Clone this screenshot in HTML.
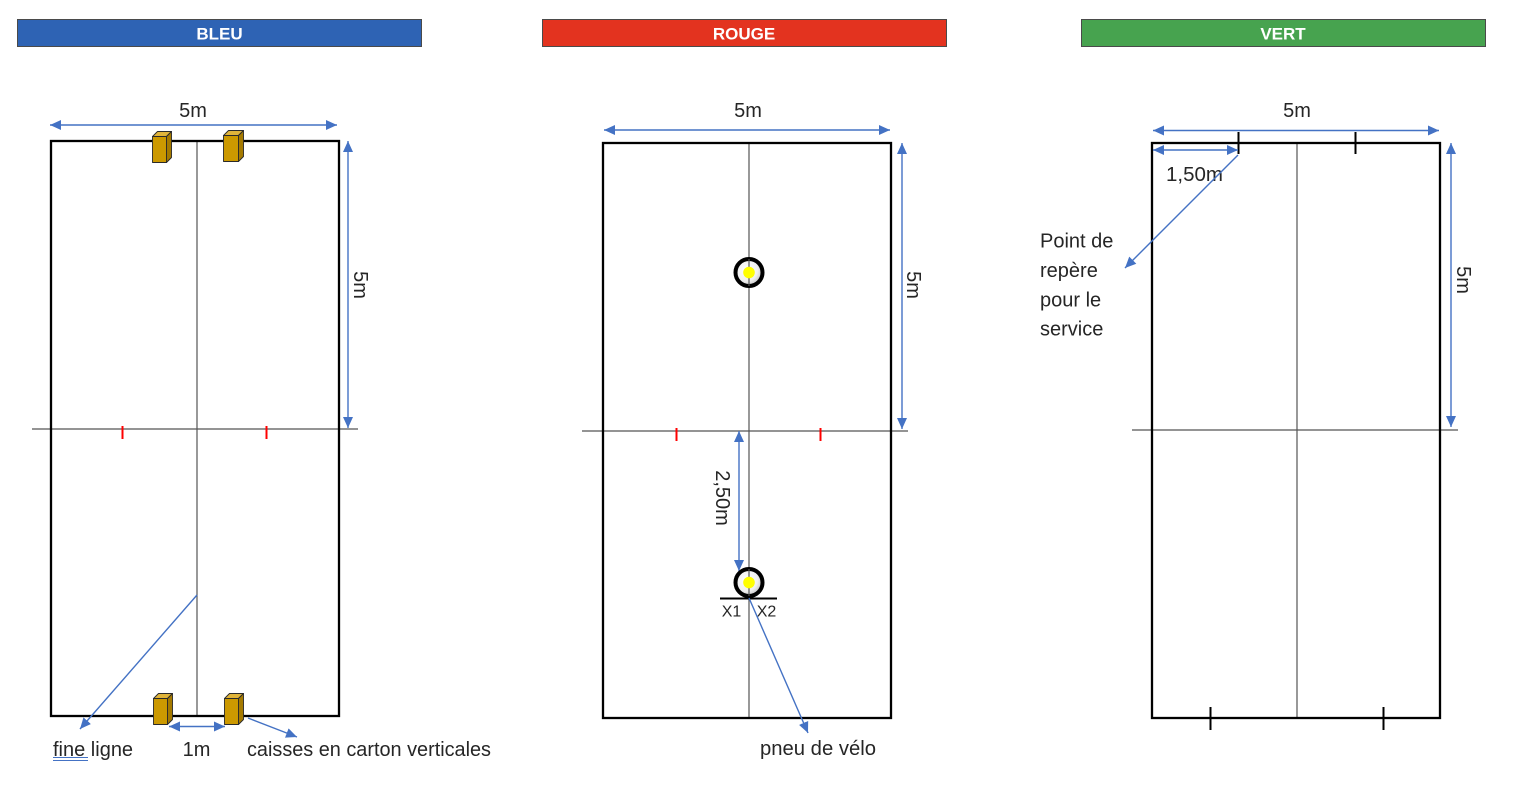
<!DOCTYPE html>
<html><head><meta charset="utf-8"><style>
html,body{margin:0;padding:0;background:#fff;}
svg{display:block;}
text{font-family:"Liberation Sans",sans-serif;fill:#262626;}
.hd{font-weight:bold;fill:#fff;font-size:17px;}
.lb{font-size:20px;}
.ar{stroke:#4472C4;stroke-width:1.4;fill:none;}
.bx{fill:none;stroke:#000;stroke-width:2.3;}
.cl{stroke:#555;stroke-width:1.2;}
.rt{stroke:#FF0000;stroke-width:2;}
.tk{stroke:#000;stroke-width:2;}
</style></head><body>
<svg width="1521" height="786" viewBox="0 0 1521 786" xmlns="http://www.w3.org/2000/svg">
<defs>
<marker id="ah" markerUnits="userSpaceOnUse" markerWidth="12" markerHeight="11" refX="11" refY="5" orient="auto-start-reverse">
<path d="M0,0 L11,5 L0,10 z" fill="#4472C4"/>
</marker>
<radialGradient id="tg" cx="0.4" cy="0.4" r="0.6">
<stop offset="0" stop-color="#ffffff"/><stop offset="0.7" stop-color="#f0f0f0"/><stop offset="1" stop-color="#c8c8c8"/>
</radialGradient>
</defs>

<!-- headers -->
<rect x="17.5" y="19.5" width="404" height="27" fill="#2E63B4" stroke="#4a4a4a" stroke-width="1"/>
<text class="hd" x="219.5" y="39.5" text-anchor="middle">BLEU</text>
<rect x="542.5" y="19.5" width="404" height="27" fill="#E3331F" stroke="#4a4a4a" stroke-width="1"/>
<text class="hd" x="744" y="39.5" text-anchor="middle">ROUGE</text>
<rect x="1081.5" y="19.5" width="404" height="27" fill="#47A34F" stroke="#4a4a4a" stroke-width="1"/>
<text class="hd" x="1283" y="39.5" text-anchor="middle">VERT</text>

<!-- ============ BLEU ============ -->
<line class="cl" x1="197" y1="141" x2="197" y2="716"/>
<line class="cl" x1="32" y1="429" x2="358" y2="429"/>
<rect class="bx" x="51" y="141" width="288" height="575"/>
<line class="rt" x1="122.5" y1="426" x2="122.5" y2="439"/>
<line class="rt" x1="266.5" y1="426" x2="266.5" y2="439"/>

<line class="ar" x1="50" y1="125" x2="337" y2="125" marker-start="url(#ah)" marker-end="url(#ah)"/>
<text class="lb" x="193" y="117" text-anchor="middle">5m</text>
<line class="ar" x1="348" y1="141" x2="348" y2="428" marker-start="url(#ah)" marker-end="url(#ah)"/>
<text class="lb" transform="translate(361,285) rotate(90)" x="0" y="7" text-anchor="middle">5m</text>

<!-- cubes -->
<g stroke="#2a2a2a" stroke-width="0.9" stroke-linejoin="round">
<polygon points="152.5,136.5 157.5,131.5 171.5,131.5 166.5,136.5" fill="#E0B43A"/>
<polygon points="166.5,136.5 171.5,131.5 171.5,157.5 166.5,162.5" fill="#A57A00"/>
<rect x="152.5" y="136.5" width="14" height="26" fill="#CC9900"/>

<polygon points="223.5,135.5 228.5,130.5 243.5,130.5 238.5,135.5" fill="#E0B43A"/>
<polygon points="238.5,135.5 243.5,130.5 243.5,156.5 238.5,161.5" fill="#A57A00"/>
<rect x="223.5" y="135.5" width="15" height="26" fill="#CC9900"/>

<polygon points="153.5,698.5 158.5,693.5 172.5,693.5 167.5,698.5" fill="#E0B43A"/>
<polygon points="167.5,698.5 172.5,693.5 172.5,719.5 167.5,724.5" fill="#A57A00"/>
<rect x="153.5" y="698.5" width="14" height="26" fill="#CC9900"/>

<polygon points="224.5,698.5 229.5,693.5 243.5,693.5 238.5,698.5" fill="#E0B43A"/>
<polygon points="238.5,698.5 243.5,693.5 243.5,719.5 238.5,724.5" fill="#A57A00"/>
<rect x="224.5" y="698.5" width="14" height="26" fill="#CC9900"/>
</g>

<line class="ar" x1="169" y1="726.5" x2="225" y2="726.5" marker-start="url(#ah)" marker-end="url(#ah)"/>
<line class="ar" x1="197" y1="595" x2="80" y2="729" marker-end="url(#ah)"/>
<line class="ar" x1="248" y1="718" x2="297" y2="737" marker-end="url(#ah)"/>

<text class="lb" x="53" y="756">fine ligne</text>
<line x1="53" y1="757.5" x2="88" y2="757.5" stroke="#4472C4" stroke-width="1"/>
<line x1="53" y1="760.5" x2="88" y2="760.5" stroke="#4472C4" stroke-width="1"/>
<text class="lb" x="196.5" y="756" text-anchor="middle">1m</text>
<text class="lb" x="247" y="756" textLength="244" lengthAdjust="spacingAndGlyphs">caisses en carton verticales</text>

<!-- ============ ROUGE ============ -->
<line class="cl" x1="749" y1="143" x2="749" y2="718"/>
<line class="cl" x1="582" y1="431" x2="908" y2="431"/>
<rect class="bx" x="603" y="143" width="288" height="575"/>
<line class="rt" x1="676.5" y1="428" x2="676.5" y2="441"/>
<line class="rt" x1="820.5" y1="428" x2="820.5" y2="441"/>

<line class="ar" x1="604" y1="130" x2="890" y2="130" marker-start="url(#ah)" marker-end="url(#ah)"/>
<text class="lb" x="748" y="117" text-anchor="middle">5m</text>
<line class="ar" x1="902" y1="143" x2="902" y2="429" marker-start="url(#ah)" marker-end="url(#ah)"/>
<text class="lb" transform="translate(914,285) rotate(90)" x="0" y="7" text-anchor="middle">5m</text>

<circle cx="749" cy="272.5" r="13.5" fill="url(#tg)" stroke="#000" stroke-width="4"/>
<line class="cl" x1="749" y1="259" x2="749" y2="286"/>
<circle cx="749" cy="272.5" r="5.8" fill="#FFFF00"/>

<line class="ar" x1="739" y1="431" x2="739" y2="571" marker-start="url(#ah)" marker-end="url(#ah)"/>
<text class="lb" transform="translate(723,498) rotate(90)" x="0" y="7" text-anchor="middle">2,50m</text>

<circle cx="749" cy="582.5" r="13.5" fill="url(#tg)" stroke="#000" stroke-width="4"/>
<line class="cl" x1="749" y1="569" x2="749" y2="596"/>
<circle cx="749" cy="582.5" r="5.8" fill="#FFFF00"/>
<line x1="720" y1="598.5" x2="777" y2="598.5" stroke="#000" stroke-width="2"/>
<text x="731.5" y="616.5" text-anchor="middle" style="font-size:16px">X1</text>
<text x="766.5" y="616.5" text-anchor="middle" style="font-size:16px">X2</text>

<line class="ar" x1="749" y1="598" x2="808" y2="733" marker-end="url(#ah)"/>
<text class="lb" x="760" y="755" textLength="116" lengthAdjust="spacingAndGlyphs">pneu de vélo</text>

<!-- ============ VERT ============ -->
<line class="cl" x1="1297" y1="143" x2="1297" y2="718"/>
<line class="cl" x1="1132" y1="430" x2="1458" y2="430"/>
<rect class="bx" x="1152" y="143" width="288" height="575"/>
<line class="tk" x1="1238.5" y1="132" x2="1238.5" y2="154"/>
<line class="tk" x1="1355.5" y1="132" x2="1355.5" y2="154"/>
<line class="tk" x1="1210.5" y1="707" x2="1210.5" y2="730"/>
<line class="tk" x1="1383.5" y1="707" x2="1383.5" y2="730"/>

<line class="ar" x1="1153" y1="130.5" x2="1439" y2="130.5" marker-start="url(#ah)" marker-end="url(#ah)"/>
<text class="lb" x="1297" y="117" text-anchor="middle">5m</text>
<line class="ar" x1="1451" y1="143" x2="1451" y2="427" marker-start="url(#ah)" marker-end="url(#ah)"/>
<text class="lb" transform="translate(1464,280) rotate(90)" x="0" y="7" text-anchor="middle">5m</text>

<line class="ar" x1="1153" y1="150" x2="1238" y2="150" marker-start="url(#ah)" marker-end="url(#ah)"/>
<text class="lb" x="1166" y="181" textLength="57" lengthAdjust="spacingAndGlyphs">1,50m</text>
<line class="ar" x1="1238" y1="155" x2="1125" y2="268" marker-end="url(#ah)"/>

<text class="lb" x="1040" y="247.5">Point de</text>
<text class="lb" x="1040" y="277">repère</text>
<text class="lb" x="1040" y="306.5">pour le</text>
<text class="lb" x="1040" y="335.5">service</text>
</svg>
</body></html>
